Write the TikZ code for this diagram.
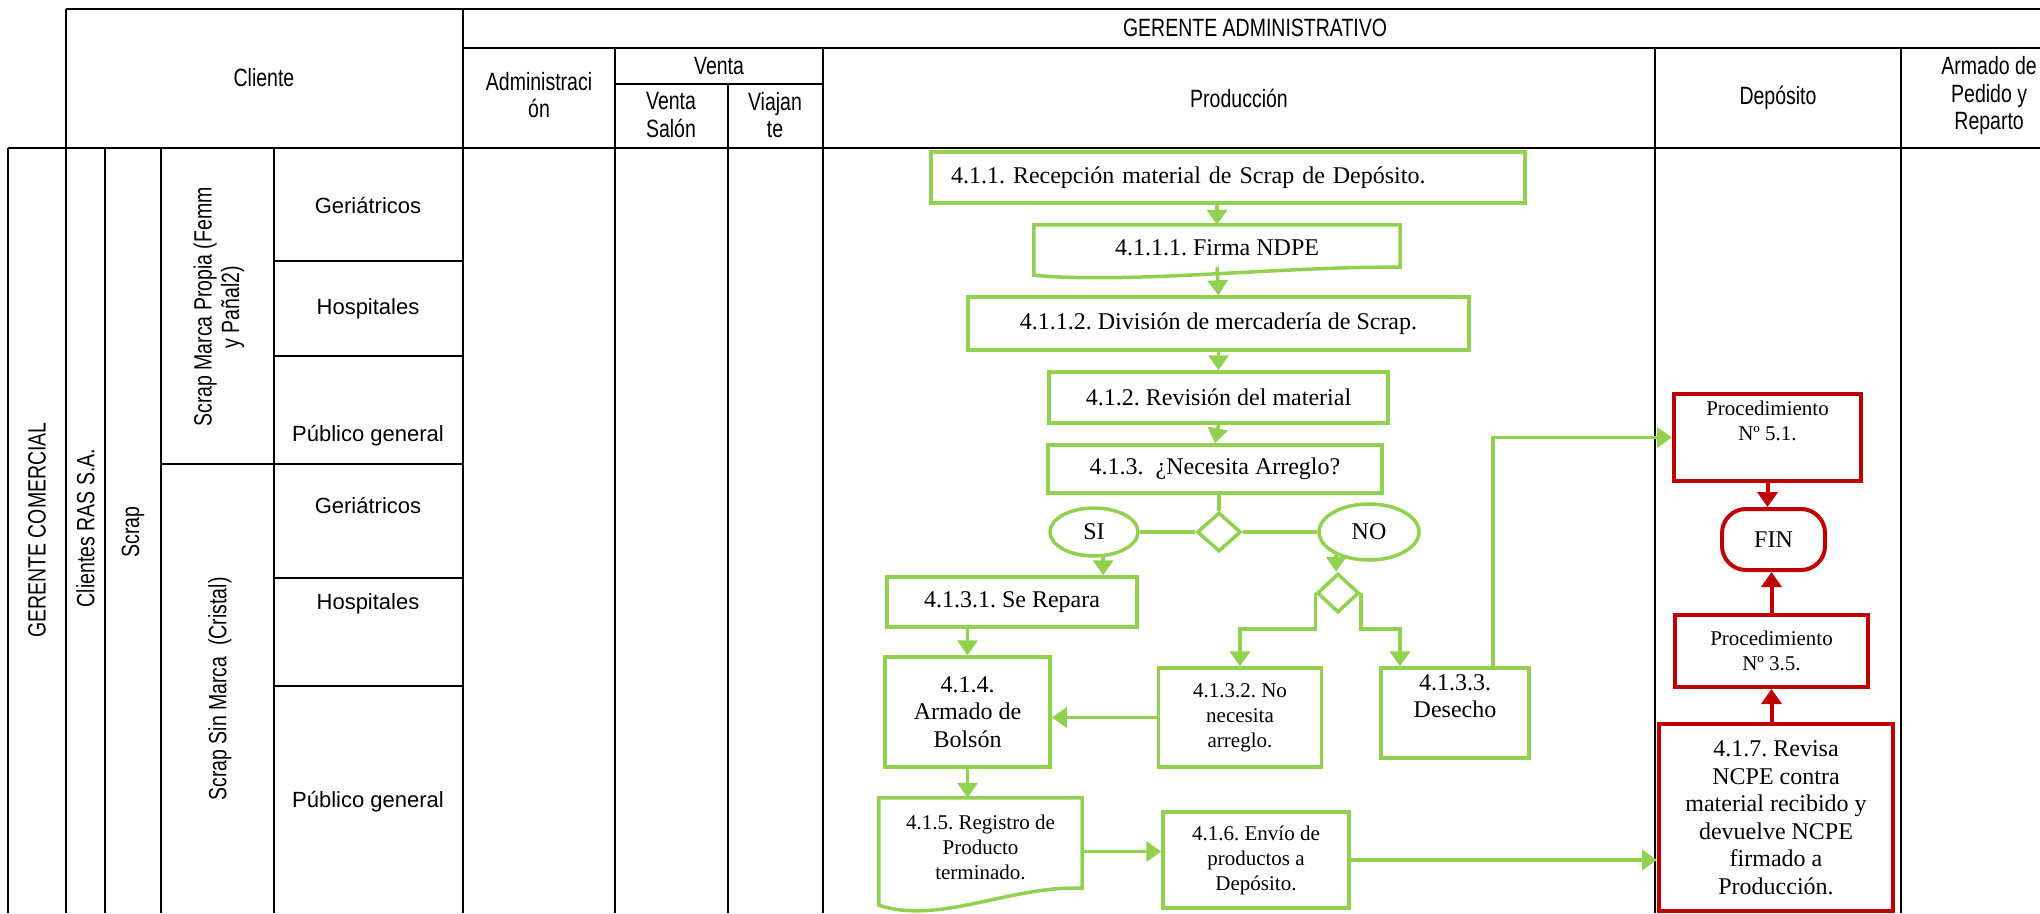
\documentclass[tikz,border=0pt]{standalone}
\usepackage{fontspec}
\setmainfont{Liberation Serif}
\newfontfamily\hdrfont{Liberation Sans}[FakeStretch=0.78]
\newfontfamily\lblfont{Liberation Sans}
\usetikzlibrary{arrows.meta,shapes.geometric,calc}
\definecolor{grn}{HTML}{92D050}
\definecolor{rd}{HTML}{C00000}
\frenchspacing

\begin{document}
\begin{tikzpicture}[x=1pt,y=-1pt,
  tblthick/.style={line width=2.9pt},
  tblmid/.style={line width=2.1pt},
  tblthin/.style={line width=1.7pt},
  hdr/.style={font=\hdrfont\fontsize{25}{27.5}\selectfont, align=center, inner sep=0pt},
  lbl/.style={font=\lblfont\fontsize{22}{26}\selectfont, inner sep=0pt},
  gbox/.style={draw=grn, line width=3.5pt, fill=white, inner sep=0pt, align=center,
               font=\fontsize{24}{27.5}\selectfont},
  gdoc/.style={inner sep=0pt, align=center, font=\fontsize{24}{27.5}\selectfont},
  small/.style={font=\fontsize{21}{25}\selectfont},
  rbox/.style={draw=rd, line width=4pt, fill=white, inner sep=0pt, align=center,
               font=\fontsize{24}{27.5}\selectfont},
  gline/.style={draw=grn, line width=3.5pt},
  garrow/.style={gline, -{Triangle[width=20pt,length=15pt]}},
  rarrow/.style={draw=rd, line width=4pt, -{Triangle[width=20pt,length=15pt]}},
]
\useasboundingbox[fill=white] (0,0) rectangle (2040,913);

% ---- table grid ----
\draw[tblthick] (66,9) -- (2040,9);
\draw[tblthick] (463,48) -- (2040,48);
\draw[tblthin] (615,84) -- (823,84);
\draw[tblthick] (8,148) -- (2040,148);
\draw[tblthick] (8,148) -- (8,913);
\draw[tblthick] (66,9) -- (66,913);
\draw[tblthick] (105,148) -- (105,913);
\draw[tblthick] (161,148) -- (161,913);
\draw[tblthick] (274,148) -- (274,913);
\draw[tblthick] (463,9) -- (463,913);
\draw[tblmid] (615,48) -- (615,913);
\draw[tblmid] (728,84) -- (728,913);
\draw[tblmid] (823,48) -- (823,913);
\draw[tblmid] (1655,48) -- (1655,913);
\draw[tblmid] (1901,48) -- (1901,913);
\foreach \yy in {261,356,464,578,686} \draw[tblthin] (274,\yy) -- (463,\yy);
\draw[tblthin] (161,464) -- (274,464);

% ---- header texts ----
\node[hdr] (gadm) at (1255,28) {GERENTE ADMINISTRATIVO};
\node[hdr] (cli)  at (264,78) {Cliente};
\node[hdr] (adm)  at (539,95) {Administraci\\ón};
\node[hdr] (vta)  at (719,66) {Venta};
\node[hdr] (vsal) at (671,115) {Venta\\Salón};
\node[hdr] (via)  at (775,115) {Viajan\\te};
\node[hdr] (prod) at (1239,98) {Producción};
\node[hdr] (dep)  at (1778,98) {Depósito};
\node[hdr, anchor=east] (arm) at (2037,96) {Armado de\\Pedido y\\Reparto};

% ---- row headers ----
\node[hdr,rotate=90] (gcom) at (37,530) {GERENTE COMERCIAL};
\node[hdr,rotate=90] (cras) at (85.5,528) {Clientes RAS S.A.};
\node[hdr,rotate=90] (scr)  at (133,532) {Scrap};
\node[hdr,rotate=90] (smp)  at (219,307) {Scrap Marca Propia (Femm\\y Pañal2)};
\node[hdr,rotate=90] (ssm)  at (220,689) {Scrap Sin Marca~ (Cristal)};

\node[lbl] (g1) at (368,206) {Geriátricos};
\node[lbl] (h1) at (368,309) {Hospitales};
\node[lbl] (p1) at (368,436) {Público general};
\node[lbl] (g2) at (368,506) {Geriátricos};
\node[lbl] (h2) at (368,604) {Hospitales};
\node[lbl] (p2) at (368,802) {Público general};

% ---- production flow ----
\node[gbox, minimum width=594pt, minimum height=51pt, text width=554pt, align=left]
  (n411) at (1228,177.5) {4.1.1. Recepción material de Scrap de Depósito.};
\node[gdoc, minimum width=366pt, minimum height=50pt] (n4111) at (1217,250) {};
\draw[gline, fill=white] (n4111.north west) -- (n4111.north east) -- ([yshift=8pt]n4111.south east)
  .. controls ([xshift=-120pt,yshift=9pt]n4111.south east) and ([xshift=96pt,yshift=-9pt]n4111.south west)
  .. (n4111.south west) -- cycle;
\node[gdoc] at ([yshift=2pt]n4111) {4.1.1.1. Firma NDPE};
\node[gbox, minimum width=501pt, minimum height=53pt] (n4112) at (1218.5,323.5) {4.1.1.2. División de mercadería de Scrap.};
\node[gbox, minimum width=339pt, minimum height=51pt] (n412) at (1218.5,397.5) {4.1.2. Revisión del material};
\node[gbox, minimum width=334pt, minimum height=48pt] (n413) at (1215,469) {4.1.3.\ \ ¿Necesita Arreglo?};
\node[gbox, diamond, minimum width=44pt, minimum height=39pt] (d1) at (1219,532) {};
\node[gbox, ellipse, minimum width=88pt, minimum height=48pt] (si) at (1094,532) {SI};
\node[gbox, ellipse, minimum width=100pt, minimum height=56pt] (no) at (1369,532) {NO};
\node[gbox, minimum width=250pt, minimum height=50pt] (sr) at (1012,602) {4.1.3.1. Se Repara};
\node[gbox, diamond, minimum width=42pt, minimum height=39pt] (d2) at (1338,593) {};
\node[gbox, small, minimum width=163pt, minimum height=99pt] (n4132) at (1240,717.5) {4.1.3.2. No\\necesita\\arreglo.};
\node[gbox, minimum width=148pt, minimum height=90pt] (n4133) at (1455,713) {4.1.3.3.\\Desecho\\[6pt]};
\node[gbox, minimum width=165pt, minimum height=110pt] (n414) at (967.5,712) {4.1.4.\\Armado de\\Bolsón};
\node[gdoc, small, minimum width=203pt, minimum height=107pt] (n415) at (980.5,851.5) {};
\draw[gline, fill=white] (n415.north west) -- (n415.north east) -- ([yshift=17pt]n415.south east)
  .. controls ([xshift=-72pt,yshift=20pt]n415.south east) and ([xshift=61pt,yshift=-20pt]n415.south west)
  .. (n415.south west) -- cycle;
\node[gdoc, small] at ([yshift=4pt]n415) {4.1.5. Registro de\\Producto\\terminado.};
\node[gbox, small, minimum width=186pt, minimum height=96pt] (n416) at (1256,860) {4.1.6. Envío de\\productos a\\Depósito.};

% ---- deposit flow ----
\node[rbox, small, minimum width=187pt, minimum height=87pt] (p51) at (1767.5,437.5) {Procedimiento\\Nº 5.1.\\[8pt]};
\node[rbox, minimum width=103pt, minimum height=61pt, rounded corners=24pt] (fin) at (1773.5,539.5) {FIN};
\node[rbox, small, minimum width=193pt, minimum height=72pt] (p35) at (1771.5,651) {Procedimiento\\Nº 3.5.};
\node[rbox, minimum width=234pt, minimum height=187pt] (n417) at (1776,817.5)
  {4.1.7. Revisa\\NCPE contra\\material recibido y\\devuelve NCPE\\firmado a\\Producción.};

% ---- connectors ----
\draw[garrow] (n411.south -| n4111.north) -- (n4111.north);
\draw[garrow] ([yshift=8pt]n4111.south) -- (n4112.north);
\draw[garrow] (n4112.south) -- (n412.north);
\draw[garrow] (n412.south) -- (n413.north);
\draw[gline] (n413.south -| d1.north) -- (d1.north);
\draw[gline] (si.east) -- (d1.west);
\draw[gline] (d1.east) -- (no.west);
\draw[garrow] (si.290) -- (si.290 |- sr.north);
\draw[garrow] (no.215) -- (no.215 |- d2.north);
\draw[garrow] (d2.west) -- ++(0,36) -| (n4132.north);
\draw[garrow] (d2.east) -- ++(0,36) -| ([xshift=-55pt]n4133.north);
\draw[garrow] ([xshift=38pt]n4133.north) |- (p51.west);
\draw[garrow] (n4132.west) -- (n4132.west -| n414.east);
\draw[garrow] (sr.south -| n414.north) -- (n414.north);
\draw[garrow] (n414.south) -- (n414.south |- n415.north);
\draw[garrow] (n415.east) -- (n415.east -| n416.west);
\draw[garrow] (n416.east) -- (n416.east -| n417.west);
\draw[rarrow] (p51.south) -- (p51.south |- fin.north);
\draw[rarrow] (p35.north) -- (p35.north |- fin.south);
\draw[rarrow] (n417.north -| p35.south) -- (p35.south);
\end{tikzpicture}
\end{document}
